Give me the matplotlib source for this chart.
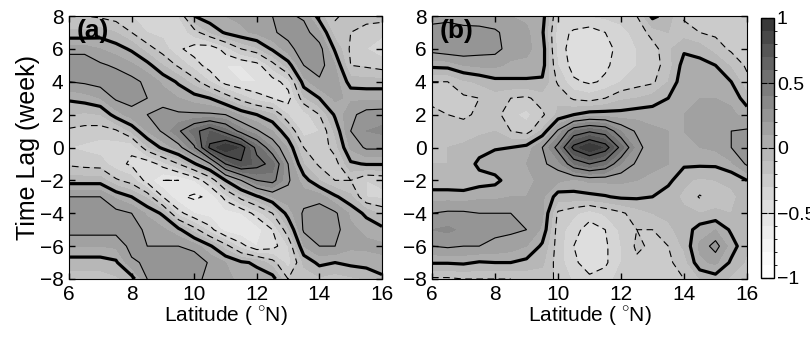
import numpy as np
import matplotlib
matplotlib.use('Agg')
import matplotlib.pyplot as plt
from matplotlib.colors import ListedColormap, BoundaryNorm

# grid: one row per latitude, values for lag -8 ... 8
lat = [6, 6.5, 7, 7.5, 8, 8.5, 9, 9.5, 10, 10.5, 11, 11.5, 12, 12.5, 13, 13.5, 14, 14.5, 15, 15.5, 16]
lag = [-8, -7, -6, -5, -4, -3, -2, -1, 0, 1, 2, 3, 4, 5, 6, 7, 8]

corr_a = [
    [-0.15, -0.05, 0.1, 0.25, 0.3, 0.2, -0.05, -0.22, -0.3, -0.22, -0.1, 0.02, 0.2, 0.3, 0.15, -0.08, -0.18],
    [-0.15, -0.05, 0.1, 0.25, 0.3, 0.2, -0.05, -0.24, -0.32, -0.24, -0.12, 0.05, 0.22, 0.3, 0.15, -0.08, -0.2],
    [-0.15, -0.05, 0.1, 0.25, 0.28, 0.2, -0.05, -0.25, -0.35, -0.25, -0.1, 0.1, 0.25, 0.22, 0.1, -0.05, -0.22],
    [-0.12, -0.02, 0.12, 0.24, 0.24, 0.08, -0.18, -0.36, -0.36, -0.22, 0.05, 0.22, 0.28, 0.18, 0.05, -0.1, -0.25],
    [-0.05, 0.18, 0.24, 0.24, 0.2, 0.0, -0.25, -0.42, -0.38, -0.08, 0.15, 0.25, 0.24, 0.12, -0.02, -0.2, -0.3],
    [0.2, 0.22, 0.2, 0.18, 0.08, -0.12, -0.45, -0.48, -0.12, 0.1, 0.2, 0.2, 0.17, 0.04, -0.15, -0.3, -0.35],
    [0.22, 0.28, 0.2, 0.12, -0.02, -0.4, -0.6, -0.35, 0.03, 0.22, 0.24, 0.15, 0.08, -0.1, -0.25, -0.33, -0.35],
    [0.25, 0.3, 0.2, 0.03, -0.35, -0.58, -0.6, -0.2, 0.15, 0.38, 0.22, 0.1, -0.02, -0.22, -0.38, -0.38, -0.3],
    [0.25, 0.3, 0.15, -0.15, -0.5, -0.62, -0.5, -0.02, 0.38, 0.55, 0.22, 0.05, -0.15, -0.35, -0.45, -0.25, 0.0],
    [0.15, 0.18, 0.02, -0.35, -0.55, -0.58, -0.3, 0.18, 0.83, 0.7, 0.22, 0.0, -0.3, -0.45, -0.48, -0.1, 0.08],
    [0.12, 0.1, -0.15, -0.55, -0.55, -0.35, 0.0, 0.6, 1.0, 0.55, 0.2, -0.12, -0.45, -0.5, -0.35, 0.02, 0.1],
    [0.08, 0.02, -0.35, -0.6, -0.5, -0.15, 0.2, 0.78, 0.88, 0.35, 0.08, -0.25, -0.5, -0.5, -0.2, 0.08, 0.12],
    [0.05, -0.02, -0.5, -0.55, -0.35, -0.02, 0.4, 0.66, 0.55, 0.22, 0.0, -0.35, -0.5, -0.45, -0.12, 0.12, 0.15],
    [0.05, -0.15, -0.45, -0.4, -0.2, 0.1, 0.45, 0.55, 0.3, 0.1, -0.08, -0.4, -0.45, -0.25, 0.02, 0.18, 0.2],
    [-0.2, -0.35, -0.3, -0.12, 0.05, 0.15, 0.22, 0.2, 0.08, -0.08, -0.3, -0.45, -0.35, -0.05, 0.15, 0.25, 0.22],
    [-0.15, -0.08, 0.1, 0.22, 0.22, 0.15, 0.05, -0.1, -0.2, -0.35, -0.35, -0.12, 0.06, 0.2, 0.28, 0.25, 0.18],
    [-0.12, 0.03, 0.2, 0.27, 0.27, 0.15, -0.1, -0.22, -0.28, -0.3, -0.2, 0.0, 0.18, 0.25, 0.25, 0.12, -0.05],
    [-0.15, 0.0, 0.2, 0.24, 0.22, 0.02, -0.2, -0.25, -0.15, -0.08, 0.02, 0.12, 0.15, 0.1, -0.02, -0.15, -0.22],
    [-0.12, 0.03, 0.12, 0.12, 0.08, -0.08, -0.2, -0.02, 0.12, 0.2, 0.17, 0.08, -0.05, -0.2, -0.22, -0.2, -0.15],
    [-0.1, 0.05, 0.12, 0.08, -0.03, -0.3, -0.3, 0.01, 0.22, 0.3, 0.25, 0.08, -0.06, -0.22, -0.3, -0.25, -0.15],
    [-0.03, 0.08, 0.12, 0.03, -0.12, -0.32, -0.28, 0.01, 0.22, 0.32, 0.26, 0.08, -0.06, -0.25, -0.35, -0.28, -0.15],
]

corr_b = [
    [-0.22, 0.01, 0.2, 0.3, 0.2, 0.06, -0.08, -0.1, -0.1, -0.12, -0.18, -0.22, -0.2, 0.03, 0.25, 0.25, 0.15],
    [-0.22, 0.01, 0.22, 0.32, 0.22, 0.06, -0.08, -0.1, -0.1, -0.13, -0.2, -0.25, -0.2, 0.04, 0.28, 0.28, 0.15],
    [-0.2, 0.02, 0.2, 0.28, 0.22, 0.05, -0.08, -0.08, -0.08, -0.15, -0.22, -0.22, -0.12, 0.1, 0.28, 0.26, 0.12],
    [-0.2, -0.01, 0.2, 0.25, 0.2, 0.08, -0.05, 0.03, -0.05, -0.12, -0.18, -0.2, -0.08, 0.12, 0.25, 0.25, 0.12],
    [-0.2, 0.0, 0.18, 0.22, 0.2, 0.08, -0.03, 0.06, -0.01, -0.1, -0.15, -0.15, -0.03, 0.12, 0.24, 0.22, 0.12],
    [-0.2, 0.0, 0.15, 0.22, 0.2, 0.1, 0.05, 0.08, 0.0, -0.2, -0.28, -0.2, -0.02, 0.08, 0.15, 0.15, 0.1],
    [-0.18, -0.03, 0.1, 0.2, 0.18, 0.1, 0.08, 0.1, 0.04, -0.25, -0.33, -0.22, -0.02, 0.08, 0.12, 0.12, 0.08],
    [-0.15, -0.08, -0.02, 0.08, 0.12, 0.12, 0.12, 0.18, 0.2, -0.08, -0.22, -0.15, -0.02, 0.05, 0.06, 0.02, 0.05],
    [-0.22, -0.25, -0.25, -0.25, -0.22, -0.05, 0.12, 0.25, 0.45, 0.22, -0.08, -0.12, -0.22, -0.3, -0.35, -0.35, -0.3],
    [-0.32, -0.38, -0.4, -0.36, -0.28, -0.04, 0.08, 0.5, 0.85, 0.5, 0.0, -0.22, -0.38, -0.45, -0.45, -0.42, -0.3],
    [-0.38, -0.45, -0.48, -0.45, -0.35, -0.03, 0.12, 0.6, 1.0, 0.58, 0.05, -0.25, -0.42, -0.48, -0.5, -0.45, -0.3],
    [-0.35, -0.42, -0.42, -0.4, -0.28, -0.01, 0.12, 0.52, 0.88, 0.52, 0.05, -0.2, -0.38, -0.42, -0.45, -0.4, -0.28],
    [-0.25, -0.3, -0.3, -0.28, -0.22, 0.02, 0.12, 0.3, 0.55, 0.3, 0.04, -0.12, -0.3, -0.35, -0.35, -0.32, -0.28],
    [-0.2, -0.22, -0.18, -0.2, -0.15, 0.02, 0.1, 0.18, 0.25, 0.18, 0.06, -0.1, -0.25, -0.3, -0.3, -0.28, -0.2],
    [-0.25, -0.25, -0.22, -0.2, -0.1, 0.0, 0.08, 0.12, 0.12, 0.12, 0.06, -0.06, -0.22, -0.25, -0.25, -0.15, 0.03],
    [-0.22, -0.22, -0.2, -0.12, -0.08, -0.06, 0.03, 0.1, 0.1, 0.1, 0.08, 0.0, -0.1, -0.15, -0.12, -0.1, -0.05],
    [-0.2, -0.15, -0.08, -0.06, -0.08, -0.12, -0.08, 0.02, 0.1, 0.1, 0.1, 0.1, 0.08, 0.05, -0.02, -0.15, -0.22],
    [-0.1, 0.08, 0.12, 0.05, -0.1, -0.21, -0.12, 0.02, 0.1, 0.12, 0.12, 0.1, 0.08, 0.04, -0.05, -0.2, -0.25],
    [-0.05, 0.12, 0.25, 0.1, -0.08, -0.15, -0.1, 0.02, 0.12, 0.15, 0.12, 0.1, 0.05, 0.0, -0.15, -0.22, -0.25],
    [-0.12, -0.02, 0.05, -0.02, -0.1, -0.12, -0.08, 0.08, 0.2, 0.2, 0.12, 0.08, 0.0, -0.12, -0.22, -0.22, -0.25],
    [-0.2, -0.12, -0.08, -0.08, -0.08, -0.06, 0.0, 0.22, 0.28, 0.22, 0.06, -0.06, -0.17, -0.22, -0.22, -0.25, -0.3],
]

xticks = [6, 8, 10, 12, 14, 16]
yticks = [-8, -6, -4, -2, 0, 2, 4, 6, 8]
cbar_ticks = [-1, -0.5, 0, 0.5, 1]
cbar_labels = ['\u22121', '\u22120.5', '0', '0.5', '1']

plt.rcParams['font.family'] = ['Liberation Sans', 'DejaVu Sans']
plt.rcParams['mathtext.fontset'] = 'custom'
plt.rcParams['mathtext.rm'] = 'Liberation Sans'

# 20 grey shades, white at -1 to dark grey at 1
levels = np.linspace(-1, 1, 21)
mids = (levels[:-1] + levels[1:]) / 2
greys = 1 - 0.8 * ((mids + 1) / 2) ** 1.4
cmap = ListedColormap([(g, g, g) for g in greys])
norm = BoundaryNorm(levels, cmap.N)

fig = plt.figure(figsize=(8.1, 3.41), dpi=100)
ax_a = fig.add_axes([69 / 810, 62 / 341, 313 / 810, 263 / 341])
ax_b = fig.add_axes([432 / 810, 62 / 341, 315 / 810, 263 / 341])
cax = fig.add_axes([761 / 810, 63 / 341, 13 / 810, 260 / 341])


def draw_panel(ax, corr, tag):
    z = np.array(corr).T
    cf = ax.contourf(lat, lag, z, levels=levels, cmap=cmap, norm=norm)
    ax.contour(lat, lag, z, levels=[-0.6, -0.4, -0.2], colors='k',
               linewidths=0.8, linestyles=[(0, (6, 4))])
    ax.contour(lat, lag, z, levels=[0.2, 0.4, 0.6, 0.8], colors='k', linewidths=0.8)
    ax.contour(lat, lag, z, levels=[0], colors='k', linewidths=2.3)
    ax.set_xlim(6, 16)
    ax.set_ylim(-8, 8)
    ax.set_xticks(xticks)
    ax.set_yticks(yticks)
    ax.tick_params(direction='in', top=True, right=True, length=4, width=1, labelsize=15, pad=4)
    ax.set_xlabel(r'Latitude ( $^{\circ}$N)', fontsize=15, labelpad=1)
    ax.text(0.025, 0.99, tag, transform=ax.transAxes, fontsize=19, fontweight='bold',
            va='top', ha='left')
    return cf


cf = draw_panel(ax_a, corr_a, '(a)')
draw_panel(ax_b, corr_b, '(b)')
ax_a.set_ylabel('Time Lag (week)', fontsize=18, labelpad=0)

cb = fig.colorbar(cf, cax=cax, ticks=cbar_ticks)
cb.ax.set_yticklabels(cbar_labels)
cb.ax.tick_params(direction='in', left=True, right=True, length=4, labelsize=14, pad=2)
cb.outline.set_linewidth(1)

fig.savefig('out.png', dpi=100)
